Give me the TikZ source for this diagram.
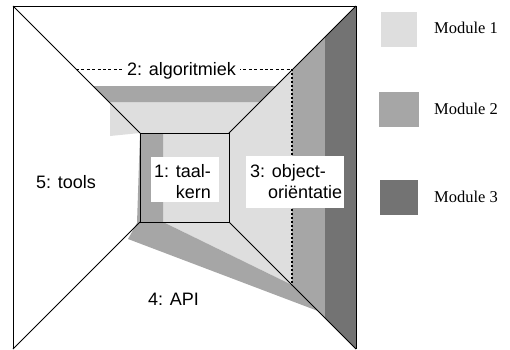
\documentclass[tikz,border=0pt]{standalone}
\usepackage{fontspec}
\setmainfont{Liberation Sans}
\newfontfamily\legendfont{Liberation Serif}
\definecolor{modone}{HTML}{DEDEDE}
\definecolor{modtwo}{HTML}{A6A6A6}
\definecolor{modthree}{HTML}{737373}
\begin{document}
\begin{tikzpicture}[x=1pt,y=-1pt,
  frame/.style={draw=black,line width=0.9pt},
  inner frame/.style={draw=black,line width=1pt},
  labeltext/.style={font=\fontsize{18}{21}\selectfont,inner sep=0pt},
  legendtext/.style={font=\legendfont\fontsize{16.5}{20}\selectfont,inner sep=0pt,anchor=base west},
  whitebox/.style={fill=white,draw=none},
  dashline/.style={draw=black,line width=0.9pt,dash pattern=on 3pt off 2.4pt},
  dotline/.style={draw=black,line width=2pt,dash pattern=on 2pt off 2pt}]
\useasboundingbox (0,0) rectangle (510,349);

% outer and inner corners
\coordinate (O1) at (13,6);
\coordinate (O2) at (356,6);
\coordinate (O3) at (356,349);
\coordinate (O4) at (13,349);
\coordinate (I1) at (140,133);
\coordinate (I2) at (229,133);
\coordinate (I3) at (229,222);
\coordinate (I4) at (140,222);
% ends of the dotted and dashed lines
\coordinate (DT) at (292,70);
\coordinate (DB) at (292,285);
\coordinate (HL) at (76,69);
\coordinate (HR) at (292,69);

% module 1
\fill[modone] (110,102) -- (260,102) -- (DT) -- (DB) -- (163,222) -- (163,133)
  -- (I1) -- (110,136) -- cycle;
% module 2
\fill[modtwo] (93,86) -- (276,86) -- (260,102) -- (109,102) -- cycle;
\fill[modtwo] (I1) -- (163,133) -- (163,222) -- (DB) -- (318,311) -- (128,239)
  -- (137,223) -- cycle;
\fill[modtwo] (DT) -- (325,37) -- (325,318) -- (DB) -- cycle;
% module 3
\fill[modthree] (325,37) -- (O2) -- (O3) -- (325,318) -- cycle;

% frame and diagonals
\draw[frame] (O4) -- (O1) -- (O2) -- (O3);
\draw[frame] (O1) -- (I1);
\draw[frame] (O2) -- (I2);
\draw[frame] (O3) -- (I3);
\draw[frame] (O4) -- (I4);
\draw[inner frame] (I1) rectangle (I3);

% dashed and dotted boundaries
\draw[dashline] (HL) -- (HR);
\draw[dotline] (HR) -- (DB);

% labels
\node[labeltext,whitebox,inner xsep=4pt,inner ysep=3pt,anchor=base] (alg) at (181.5,75) {2: algoritmiek};
\node[labeltext,anchor=base west] (tools) at (36,188.5) {5: tools};
\node[labeltext,anchor=base west] (api) at (148,305) {4: API};

\fill[white] (151,157) rectangle (219,202);
\node[labeltext,anchor=base west] (taalA) at (154,177) {1: taal-};
\node[labeltext,anchor=base east] (taalB) at (taalA.base east) [yshift=-21pt] {kern};

\fill[white] (246,156) rectangle (344,208);
\node[labeltext,anchor=base west] (objA) at (250,177) {3: object-};
\node[labeltext,anchor=base west] (objB) at (268,198) {oriëntatie};

% legend
\fill[modone] (381,12) rectangle (417,47);
\fill[modtwo] (379,92) rectangle (419,127);
\fill[modthree] (380,180) rectangle (418,215);
\node[legendtext] (leg1) at (434,33.5) {Module 1};
\node[legendtext] (leg2) at (434,114.5) {Module 2};
\node[legendtext] (leg3) at (434,202.5) {Module 3};
\end{tikzpicture}
\end{document}
